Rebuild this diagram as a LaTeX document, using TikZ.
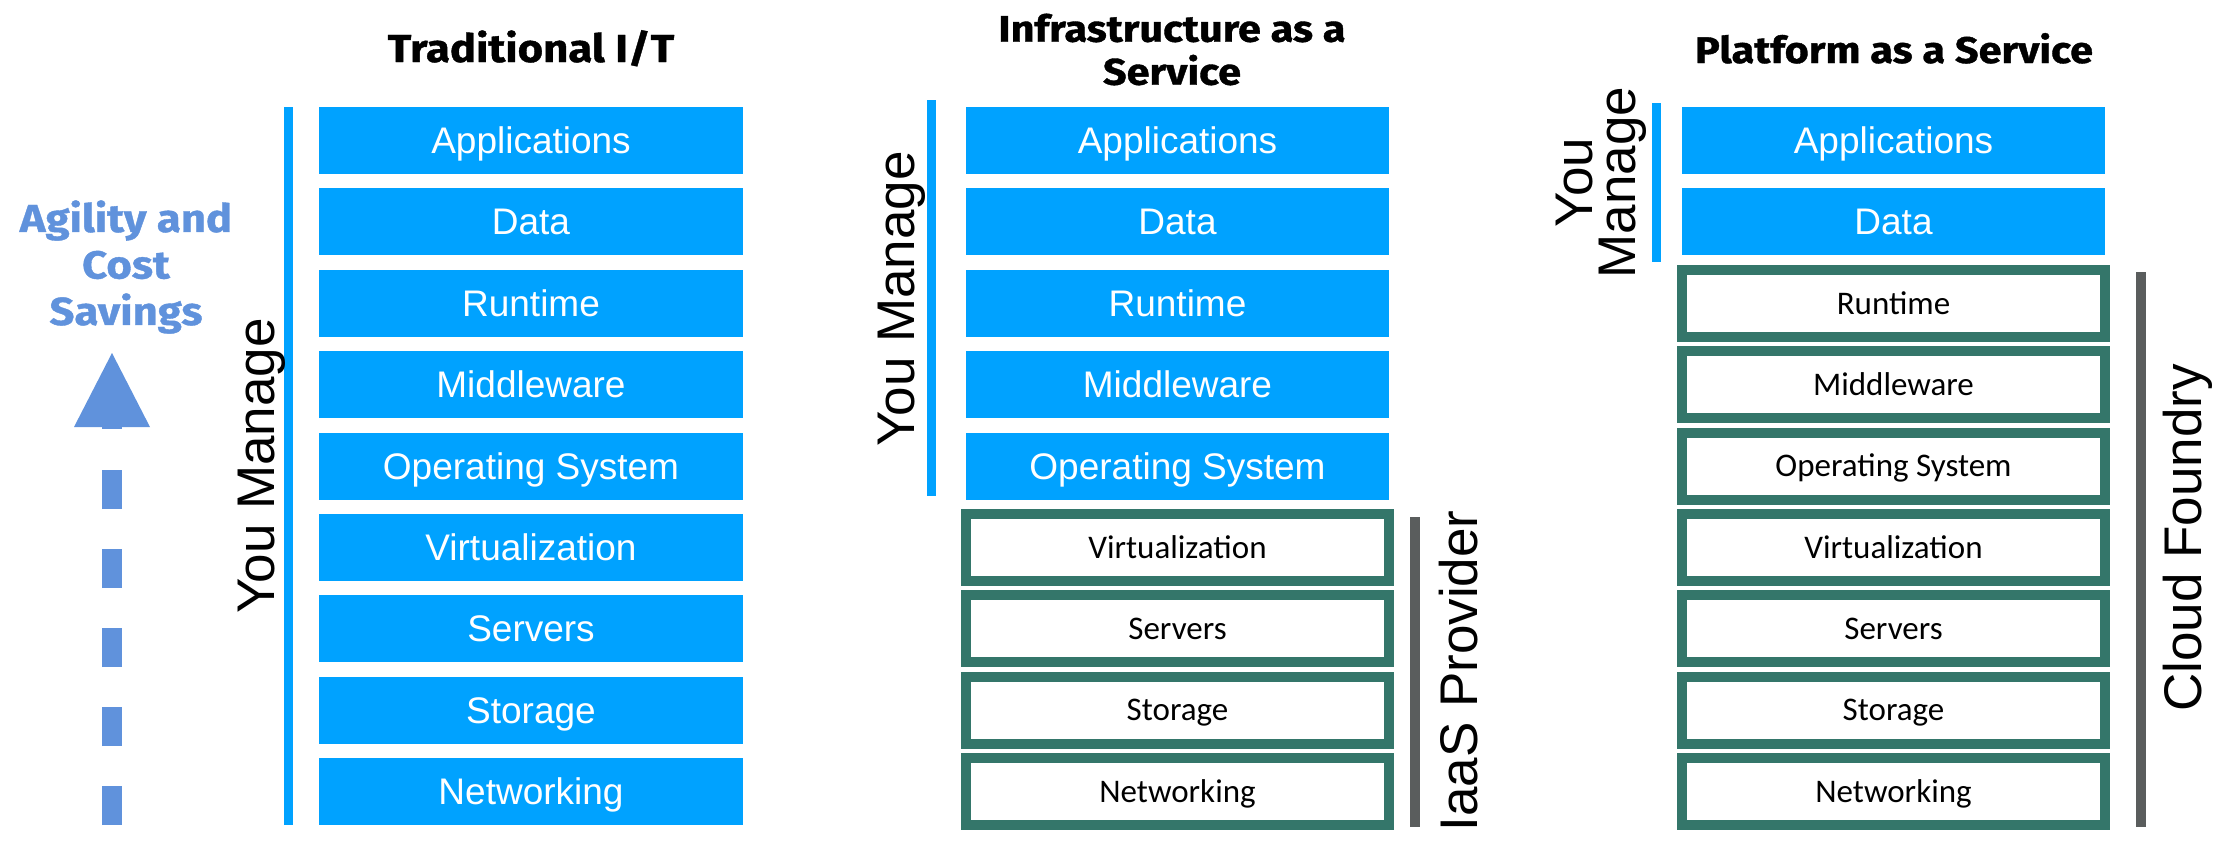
\documentclass[tikz,border=0pt]{standalone}
\usepackage{fontspec}
\setmainfont{Liberation Sans}
\newfontfamily\gillfont{Carlito}
\newfontfamily\titlefont{Fira Sans}[BoldFeatures={FakeStretch=1.12, FakeBold=1}]
\definecolor{boxblue}{RGB}{0,162,255}
\definecolor{boxgreen}{RGB}{52,118,106}
\definecolor{bargray}{RGB}{90,93,93}
\definecolor{agilityblue}{RGB}{96,146,220}
\begin{document}
\begin{tikzpicture}[x=1pt,y=-1pt,
  bluebox/.style={fill=boxblue, minimum width=423.5pt, minimum height=67pt, inner sep=0pt, text=white, text height=26.1pt, text depth=0pt, font=\fontsize{37}{40}\selectfont},
  greenbox/.style={draw=boxgreen, line width=10pt, fill=white, minimum width=423.5pt, minimum height=67pt, inner sep=0pt, text=black, text height=21.5pt, text depth=0pt, font=\gillfont\fontsize{33}{38}\selectfont},
  sidelabel/.style={rotate=90, anchor=base, inner sep=0pt, font=\fontsize{53}{60}\selectfont},
  titletext/.style={font=\titlefont\bfseries\fontsize{37}{43}\selectfont, inner sep=0pt, align=center},
  bluebar/.style={draw=boxblue, line width=9pt},
  graybar/.style={draw=bargray, line width=10pt},
]
\fill[white] (0,0) rectangle (2236,862);
\useasboundingbox (0,0) rectangle (2236,862);

% ---------- titles
\node[titletext, anchor=base, font=\titlefont\bfseries\fontsize{39}{43}\selectfont] (t1) at (531,62) {Traditional I/T};
\node[titletext, anchor=center] (t2) at (1172,49.5) {Infrastructure as a\\Service};
\node[titletext, anchor=base] (t3) at (1894,63) {Platform as a Service};

% ---------- agility arrow
\node[titletext, text=agilityblue, font=\titlefont\bfseries\fontsize{39}{46.5}\selectfont, anchor=center] (agility) at (126,267) {Agility and\\Cost\\Savings};
\coordinate (arrowtail) at (112,825);
\coordinate (arrowneck) at (112,430);
\draw[agilityblue, line width=20pt, dash pattern=on 39.5pt off 39.5pt] (arrowtail) -- (arrowneck);
\fill[agilityblue] (112,353) -- (150,427) -- (74,427) -- cycle;
\fill[agilityblue] (102,426) rectangle (122,429);

% ---------- column 1: Traditional I/T
\node[bluebox] (a1) at (531,140.5) {Applications};
\node[bluebox] (b1) at (531,221.9) {Data};
\node[bluebox] (c1) at (531,303.3) {Runtime};
\node[bluebox] (d1) at (531,384.6) {Middleware};
\node[bluebox] (e1) at (531,466.0) {Operating System};
\node[bluebox] (f1) at (531,547.4) {Virtualization};
\node[bluebox] (g1) at (531,628.8) {Servers};
\node[bluebox] (h1) at (531,710.1) {Storage};
\node[bluebox] (i1) at (531,791.5) {Networking};
\coordinate (m1top) at (288,107);
\coordinate (m1bot) at (288,825);
\draw[bluebar] (m1top) -- (m1bot);
\node[sidelabel] (you1) at (274,466) {You Manage};

% ---------- column 2: IaaS
\node[bluebox] (a2) at (1177.5,140.5) {Applications};
\node[bluebox] (b2) at (1177.5,221.9) {Data};
\node[bluebox] (c2) at (1177.5,303.3) {Runtime};
\node[bluebox] (d2) at (1177.5,384.6) {Middleware};
\node[bluebox] (e2) at (1177.5,466.0) {Operating System};
\node[greenbox] (f2) at (1177.5,547.4) {Virtualization};
\node[greenbox] (g2) at (1177.5,628.8) {Servers};
\node[greenbox] (h2) at (1177.5,710.1) {Storage};
\node[greenbox] (i2) at (1177.5,791.5) {Networking};
\coordinate (m2top) at (931,100);
\coordinate (m2bot) at (931,496);
\draw[bluebar] (m2top) -- (m2bot);
\node[sidelabel] (you2) at (914,299) {You Manage};
\coordinate (p2top) at (1415,517);
\coordinate (p2bot) at (1415,827);
\draw[graybar] (p2top) -- (p2bot);
\node[sidelabel] (iaas) at (1477,671) {IaaS Provider};

% ---------- column 3: PaaS
\node[bluebox] (a3) at (1893.5,140.5) {Applications};
\node[bluebox] (b3) at (1893.5,221.9) {Data};
\node[greenbox] (c3) at (1893.5,303.3) {Runtime};
\node[greenbox] (d3) at (1893.5,384.6) {Middleware};
\node[greenbox] (e3) at (1893.5,466.0) {Operating System};
\node[greenbox] (f3) at (1893.5,547.4) {Virtualization};
\node[greenbox] (g3) at (1893.5,628.8) {Servers};
\node[greenbox] (h3) at (1893.5,710.1) {Storage};
\node[greenbox] (i3) at (1893.5,791.5) {Networking};
\coordinate (m3top) at (1656,103);
\coordinate (m3bot) at (1656,262);
\draw[bluebar] (m3top) -- (m3bot);
\node[rotate=90, anchor=center, inner sep=0pt, align=center, font=\fontsize{53}{43}\selectfont] (you3) at (1601,182.5) {You\\Manage};
\coordinate (p3top) at (2140.5,272);
\coordinate (p3bot) at (2140.5,827);
\draw[graybar] (p3top) -- (p3bot);
\node[sidelabel] (cf) at (2201,538) {Cloud Foundry};
\end{tikzpicture}
\end{document}
